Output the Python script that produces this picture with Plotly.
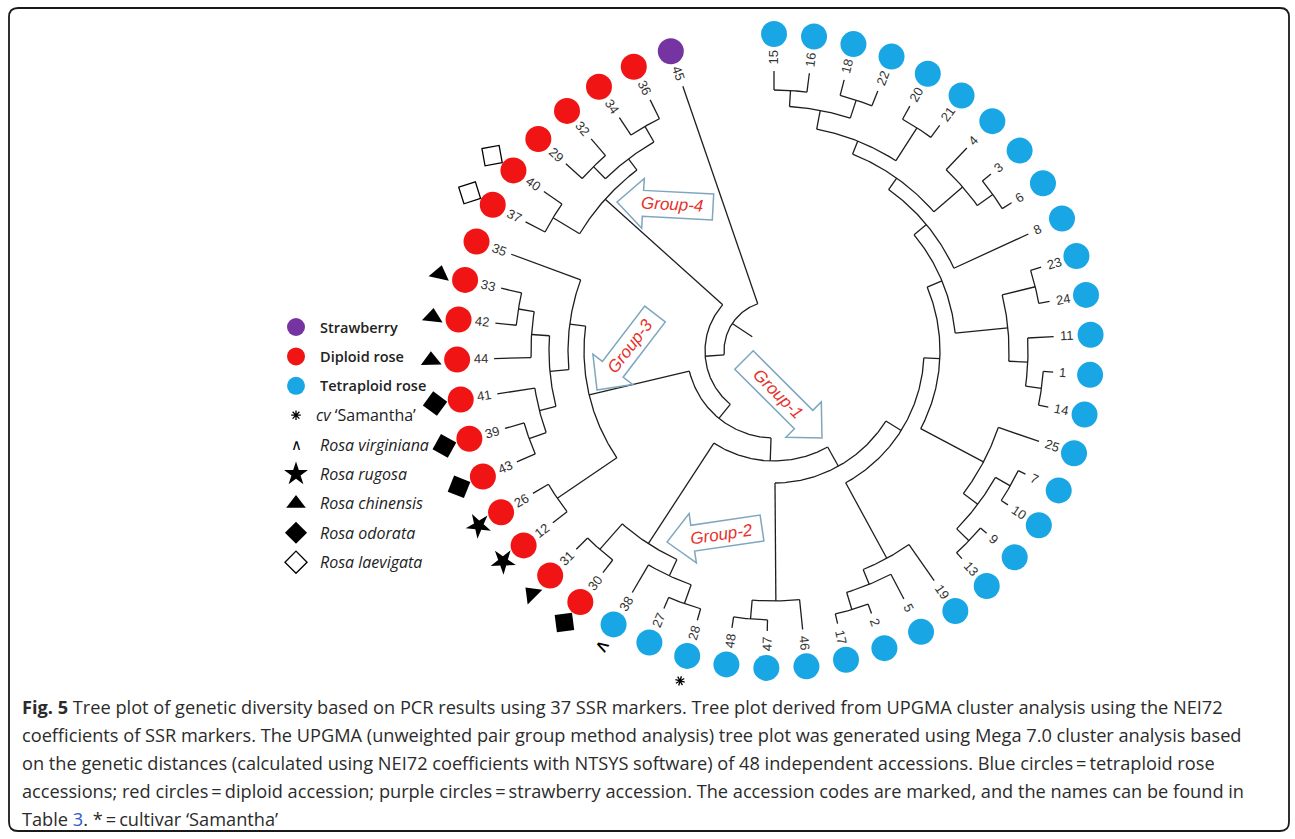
import math
import plotly.graph_objects as go

# ---------------------------------------------------------------- data
# accessions in the order they sit around the circle (clockwise from top)
LEAF_ORDER = ["15", "16", "18", "22", "20", "21", "4", "3", "6", "8",
              "23", "24", "11", "1", "14", "25", "7", "10", "9", "13",
              "19", "5", "2", "17", "46", "47", "48", "28", "27", "38",
              "30", "31", "12", "26", "43", "39", "41", "44", "42", "33",
              "35", "37", "40", "29", "32", "34", "36", "45"]

# UPGMA joins: (new node, child a, child b, NEI72 distance of the join)
MERGES = [
    ("n15_16", "15", "16", 0.038),
    ("n18_22", "18", "22", 0.032),
    ("g1a", "n15_16", "n18_22", 0.070),
    ("n20_21", "20", "21", 0.030),
    ("g1b", "g1a", "n20_21", 0.108),
    ("n3_6", "3", "6", 0.022),
    ("n4", "4", "n3_6", 0.060),
    ("g1c", "g1b", "n4", 0.136),
    ("g1d", "g1c", "8", 0.164),
    ("n23_24", "23", "24", 0.022),
    ("n1_14", "1", "14", 0.020),
    ("n11", "11", "n1_14", 0.052),
    ("g1e", "n23_24", "n11", 0.090),
    ("g1f", "g1d", "g1e", 0.196),
    ("n7_10", "7", "10", 0.016),
    ("n9_13", "9", "13", 0.016),
    ("n7_13", "n7_10", "n9_13", 0.050),
    ("n25", "25", "n7_13", 0.086),
    ("g1g", "g1f", "n25", 0.228),
    ("n2_17", "2", "17", 0.020),
    ("n5", "5", "n2_17", 0.056),
    ("n19", "19", "n5", 0.088),
    ("g1h", "g1g", "n19", 0.260),
    ("n47_48", "47", "48", 0.022),
    ("n46", "46", "n47_48", 0.060),
    ("group1", "g1h", "n46", 0.296),
    ("n30_31", "31", "30", 0.032),
    ("n27_28", "27", "28", 0.024),
    ("n38", "38", "n27_28", 0.064),
    ("group2", "n30_31", "n38", 0.100),
    ("n33_42", "33", "42", 0.042),
    ("n44", "44", "n33_42", 0.074),
    ("n39_43", "39", "43", 0.040),
    ("n41", "41", "n39_43", 0.076),
    ("g3a", "n44", "n41", 0.110),
    ("g3b", "35", "g3a", 0.148),
    ("n12_26", "12", "26", 0.036),
    ("group3", "g3b", "n12_26", 0.180),
    ("n37_40", "37", "40", 0.044),
    ("n29_32", "29", "32", 0.044),
    ("n34_36", "34", "36", 0.042),
    ("g4a", "n29_32", "n34_36", 0.078),
    ("group4", "n37_40", "g4a", 0.106),
    ("g12", "group1", "group2", 0.340),
    ("g123", "g12", "group3", 0.386),
    ("roses", "g123", "group4", 0.422),
    ("root", "roses", "45", 0.460),
]

STRAWBERRY = ["45"]
DIPLOID = ["36", "34", "32", "29", "40", "37", "35", "33", "42", "44",
           "41", "39", "43", "26", "12", "31", "30"]
TETRAPLOID = [l for l in LEAF_ORDER if l not in STRAWBERRY + DIPLOID]

SAMANTHA = ["28"]
VIRGINIANA = ["38"]
RUGOSA = ["26", "12"]
CHINENSIS = ["33", "42", "44", "31"]
ODORATA = ["41", "39", "43", "30"]
LAEVIGATA = ["40", "37"]

GROUP_NAMES = ["Group-1", "Group-2", "Group-3", "Group-4"]

LEGEND_LABELS = ["Strawberry", "Diploid rose", "Tetraploid rose",
                 "<i>cv</i> \u2018Samantha\u2019", "<i>Rosa virginiana</i>",
                 "<i>Rosa rugosa</i>", "<i>Rosa chinensis</i>",
                 "<i>Rosa odorata</i>", "<i>Rosa laevigata</i>"]

CAPTION = [
    "<b>Fig. 5</b> Tree plot of genetic diversity based on PCR results using 37 SSR markers. "
    "Tree plot derived from UPGMA cluster analysis using the NEI72",
    "coefficients of SSR markers. The UPGMA (unweighted pair group method analysis) tree plot "
    "was generated using Mega 7.0 cluster analysis based",
    "on the genetic distances (calculated using NEI72 coefficients with NTSYS software) of 48 "
    "independent accessions. Blue circles\u2009=\u2009tetraploid rose",
    "accessions; red circles\u2009=\u2009diploid accession; purple circles\u2009=\u2009strawberry "
    "accession. The accession codes are marked, and the names can be found in",
    "Table <span style='color:#2f5bd0'>3</span>. *\u2009=\u2009cultivar \u2018Samantha\u2019",
]

# ---------------------------------------------------------------- layout / style
W, H = 1295, 839
CX, CY = 774, 351          # centre of the circular tree (px)
R_TIP = 280                # radius where branch tips end
PX_PER_DIST = 500          # px per unit of distance
R_DOT = 317                # ring of coloured accession dots
R_MARK = 343               # ring of species symbols
SPAN = 341.0               # degrees covered by the leaves
ROOT_STEM = 24

BLUE, RED, PURPLE = "#19a6e5", "#f01414", "#7534a2"
INK = "#1e1e1e"
ARROW_EDGE = "#7ea6bf"
GROUP_RED = "#e8302a"


def polar(r, theta):
    t = math.radians(theta)
    return CX + r * math.sin(t), CY - r * math.cos(t)


def upright(theta):
    """Rotation that keeps radial text readable."""
    return theta - 90 if theta <= 180 else theta - 270


n_leaf = len(LEAF_ORDER)
angle = {leaf: i * SPAN / (n_leaf - 1) for i, leaf in enumerate(LEAF_ORDER)}
radius = {leaf: R_TIP for leaf in LEAF_ORDER}
for node, a, b, d in MERGES:
    angle[node] = (angle[a] + angle[b]) / 2
    radius[node] = R_TIP - d * PX_PER_DIST

# ---------------------------------------------------------------- branches
bx, by = [], []
for node, a, b, d in MERGES:
    r = radius[node]
    for c in (a, b):
        x0, y0 = polar(r, angle[c])
        x1, y1 = polar(radius[c], angle[c])
        bx += [x0, x1, None]
        by += [y0, y1, None]
    t0, t1 = sorted((angle[a], angle[b]))
    steps = max(2, int((t1 - t0) / 0.4) + 1)
    for k in range(steps + 1):
        x, y = polar(r, t0 + (t1 - t0) * k / steps)
        bx.append(x)
        by.append(y)
    bx.append(None)
    by.append(None)
root_r, root_t = radius["root"], angle["root"]
for rr in (root_r, root_r - ROOT_STEM):
    x, y = polar(rr, root_t)
    bx.append(x)
    by.append(y)

fig = go.Figure()
fig.add_trace(go.Scatter(x=bx, y=by, mode="lines", line=dict(color=INK, width=1.3),
                         hoverinfo="skip", showlegend=False))

# ---------------------------------------------------------------- accession dots
for leaves, col in ((TETRAPLOID, BLUE), (DIPLOID, RED), (STRAWBERRY, PURPLE)):
    pts = [polar(R_DOT, angle[l]) for l in leaves]
    fig.add_trace(go.Scatter(x=[p[0] for p in pts], y=[p[1] for p in pts], mode="markers",
                             marker=dict(size=26, color=col, opacity=1, line=dict(width=0)),
                             text=leaves, hoverinfo="text", showlegend=False))

# ---------------------------------------------------------------- species symbols
def species_trace(leaves, symbol, size, line_w=0):
    pts = [polar(R_MARK, angle[l]) for l in leaves]
    return go.Scatter(x=[p[0] for p in pts], y=[p[1] for p in pts], mode="markers",
                      marker=dict(symbol=symbol, size=size, color="black", opacity=1,
                                  angle=[upright(angle[l]) for l in leaves],
                                  line=dict(color="black", width=line_w)),
                      hoverinfo="skip", showlegend=False)


fig.add_trace(species_trace(SAMANTHA, "asterisk-open", 8, 1.3))
fig.add_trace(species_trace(RUGOSA, "star", 19))
fig.add_trace(species_trace(CHINENSIS, "triangle-up", 18))
fig.add_trace(species_trace(ODORATA, "diamond", 19))
fig.add_trace(species_trace(LAEVIGATA, "diamond-open", 19, 1.3))

annotations = []
for l in VIRGINIANA:
    x, y = polar(R_MARK - 2, angle[l])
    annotations.append(dict(x=x, y=y, text="\u2227", showarrow=False, textangle=upright(angle[l]),
                            font=dict(family="DejaVu Sans", size=19, color="black"),
                            xanchor="center", yanchor="middle"))

# ---------------------------------------------------------------- leaf labels
for l in LEAF_ORDER:
    x, y = polar(R_TIP + 6 + 3.7 * len(l), angle[l])
    annotations.append(dict(x=x, y=y, text=l, showarrow=False, textangle=upright(angle[l]),
                            font=dict(family="Liberation Sans", size=13, color="#333333"),
                            xanchor="center", yanchor="middle"))

# ---------------------------------------------------------------- group arrows
GROUP_ARROWS = {  # tip, tail (px)
    "Group-1": ((822, 438), (744, 360)),
    "Group-2": ((667, 542), (762, 528)),
    "Group-3": ((597, 390), (655, 314)),
    "Group-4": ((617, 202), (713, 207)),
}
shapes = []
for name in GROUP_NAMES:
    (tx, ty), (sx, sy) = GROUP_ARROWS[name]
    L = math.hypot(sx - tx, sy - ty)
    ux, uy = (sx - tx) / L, (sy - ty) / L
    nx, ny = -uy, ux
    head_len, head_hw, body_hw = 26, 25, 13
    hx, hy = tx + ux * head_len, ty + uy * head_len
    pts = [(tx, ty),
           (hx + nx * head_hw, hy + ny * head_hw),
           (hx + nx * body_hw, hy + ny * body_hw),
           (sx + nx * body_hw, sy + ny * body_hw),
           (sx - nx * body_hw, sy - ny * body_hw),
           (hx - nx * body_hw, hy - ny * body_hw),
           (hx - nx * head_hw, hy - ny * head_hw)]
    path = "M " + " L ".join(f"{px:.1f},{py:.1f}" for px, py in pts) + " Z"
    shapes.append(dict(type="path", path=path, xref="x", yref="y",
                       line=dict(color=ARROW_EDGE, width=1.5), fillcolor="rgba(255,255,255,0)"))
    ang = math.degrees(math.atan2(sy - ty, sx - tx))
    if ang > 90:
        ang -= 180
    elif ang < -90:
        ang += 180
    f = 0.57
    annotations.append(dict(x=tx + (sx - tx) * f, y=ty + (sy - ty) * f, text=f"<i>{name}</i>",
                            showarrow=False, textangle=ang, xanchor="center", yanchor="middle",
                            font=dict(family="Liberation Sans", size=17, color=GROUP_RED)))

# ---------------------------------------------------------------- legend
LEG_X_SYM, LEG_X_TXT, LEG_Y0, LEG_DY = 296, 318, 327, 29.4
leg_y = [LEG_Y0 + i * LEG_DY for i in range(len(LEGEND_LABELS))]
leg_sym = ["circle", "circle", "circle", "asterisk-open", None, "star", "triangle-up",
           "diamond", "diamond-open"]
leg_col = [PURPLE, RED, BLUE, "black", None, "black", "black", "black", "black"]
leg_size = [18, 18, 18, 8, None, 18, 17, 17, 17]
leg_lw = [0, 0, 0, 1.3, None, 0, 0, 0, 1.3]
keep = [i for i, s in enumerate(leg_sym) if s is not None]
fig.add_trace(go.Scatter(
    x=[LEG_X_SYM] * len(keep), y=[leg_y[i] for i in keep], mode="markers",
    marker=dict(symbol=[leg_sym[i] for i in keep], color=[leg_col[i] for i in keep],
                size=[leg_size[i] for i in keep], opacity=1,
                line=dict(color="black", width=[leg_lw[i] for i in keep])),
    hoverinfo="skip", showlegend=False))
annotations.append(dict(x=LEG_X_SYM, y=leg_y[4], text="\u2227", showarrow=False,
                        font=dict(family="DejaVu Sans", size=15, color="black"),
                        xanchor="center", yanchor="middle"))
for i, lab in enumerate(LEGEND_LABELS):
    bold = i < 3
    annotations.append(dict(x=LEG_X_TXT - (4 if i == 3 else 0), y=leg_y[i], text=lab,
                            showarrow=False, xanchor="left", yanchor="middle",
                            font=dict(family="Open Sans", size=14.5 if bold else 16,
                                      weight=600 if bold else 400, color="#222222")))

# ---------------------------------------------------------------- caption
CAP_X, CAP_Y0, CAP_DY = 20, 707, 28
for i, line in enumerate(CAPTION):
    annotations.append(dict(x=CAP_X, y=CAP_Y0 + i * CAP_DY, text=line, showarrow=False,
                            xanchor="left", yanchor="middle",
                            font=dict(family="Open Sans", size=18.2, color="#2b2b2b")))

# rounded frame
x0, y0, x1, y1, rc = 9, 8, 1289, 831, 9
frame = (f"M {x0 + rc},{y0} L {x1 - rc},{y0} Q {x1},{y0} {x1},{y0 + rc} "
         f"L {x1},{y1 - rc} Q {x1},{y1} {x1 - rc},{y1} L {x0 + rc},{y1} "
         f"Q {x0},{y1} {x0},{y1 - rc} L {x0},{y0 + rc} Q {x0},{y0} {x0 + rc},{y0} Z")
shapes.append(dict(type="path", path=frame, xref="x", yref="y",
                   line=dict(color="#1a1a1a", width=1.8)))

fig.update_layout(
    width=W, height=H, margin=dict(l=0, r=0, t=0, b=0),
    paper_bgcolor="white", plot_bgcolor="white",
    xaxis=dict(range=[0, W], visible=False, fixedrange=True),
    yaxis=dict(range=[H, 0], visible=False, fixedrange=True),
    shapes=shapes, annotations=annotations, showlegend=False,
)

fig.write_html("out.html")
